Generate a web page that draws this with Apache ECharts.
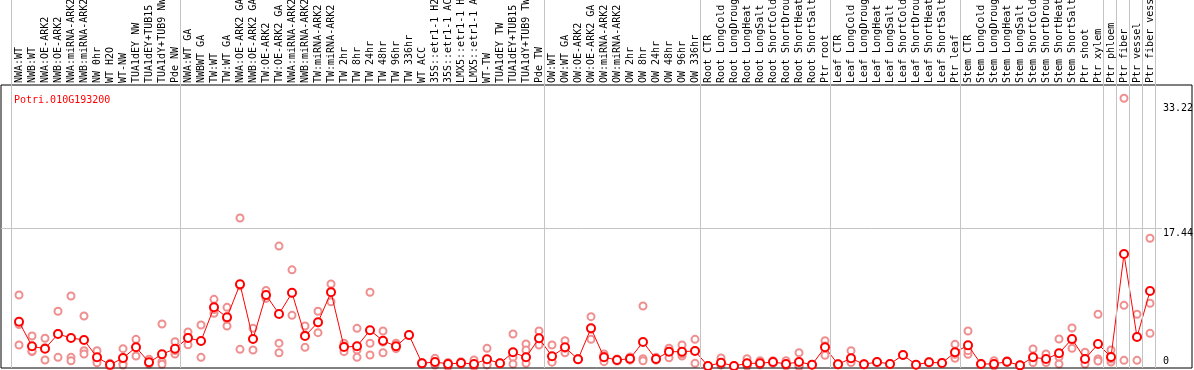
<!DOCTYPE html>
<html>
<head>
<meta charset="utf-8">
<script src="https://cdn.jsdelivr.net/npm/echarts@6/dist/echarts.min.js"></script>
<style>
html,body{margin:0;padding:0;background:#fff;}
#chart{width:1194px;height:370px;}
</style>
</head>
<body>
<div id="chart"></div>
<script>
const geneId = 'Potri.010G193200';

const categories = [
  'NWA:WT','NWB:WT','NWA:OE-ARK2','NWB:OE-ARK2','NWA:miRNA-ARK2','NWB:miRNA-ARK2','NW 0hr','WT H2O','WT-NW',
  'TUA1dEY NW','TUA1dEY+TUB15 NW','TUA1dY+TUB9 NW','Pde NW',
  'NWA:WT GA','NWBWT GA','TW:WT','TW:WT GA','NWA:OE-ARK2 GA','NWB:OE-ARK2 GA','TW:OE-ARK2','TW:OE-ARK2 GA',
  'NWA:miRNA-ARK2 GA','NWB:miRNA-ARK2 GA','TW:miRNA-ARK2','TW:miRNA-ARK2 GA','TW 2hr','TW 8hr','TW 24hr','TW 48hr',
  'TW 96hr','TW 336hr','WT ACC','35S::etr1-1 H2O','35S::etr1-1 ACC','LMX5::etr1-1 H2O','LMX5::etr1-1 ACC','WT-TW',
  'TUA1dEY TW','TUA1dEY+TUB15 TW','TUA1dY+TUB9 TW','Pde TW',
  'OW:WT','OW:WT GA','OW:OE-ARK2','OW:OE-ARK2 GA','OW:miRNA-ARK2','OW:miRNA-ARK2 GA','OW 2hr','OW 8hr','OW 24hr',
  'OW 48hr','OW 96hr','OW 336hr',
  'Root CTR','Root LongCold','Root LongDrought','Root LongHeat','Root LongSalt','Root ShortCold','Root ShortDrought',
  'Root ShortHeat','Root ShortSalt','Ptr root',
  'Leaf CTR','Leaf LongCold','Leaf LongDrought','Leaf LongHeat','Leaf LongSalt','Leaf ShortCold','Leaf ShortDrought',
  'Leaf ShortHeat','Leaf ShortSalt','Ptr leaf',
  'Stem CTR','Stem LongCold','Stem LongDrought','Stem LongHeat','Stem LongSalt','Stem ShortCold','Stem ShortDrought',
  'Stem ShortHeat','Stem ShortSalt','Ptr shoot','Ptr xylem',
  'Ptr phloem','Ptr fiber','Ptr vessel','Ptr fiber vessel'
];

const means = [
  5.66,2.55,2.25,4.10,3.60,3.35,1.16,0.23,1.07,2.42,0.53,1.54,2.25,
  3.60,3.22,7.47,6.21,10.38,3.47,9.03,6.63,9.30,3.85,5.58,9.37,2.46,2.55,4.57,3.26,2.55,3.98,0.40,0.57,0.32,0.44,0.32,0.91,0.40,1.79,1.16,3.56,
  1.29,2.42,0.91,4.82,1.16,0.82,0.99,3.09,0.95,1.87,1.87,1.96,
  0.06,0.48,0.06,0.40,0.40,0.57,0.32,0.57,0.23,2.42,
  0.28,1.03,0.28,0.57,0.32,1.45,0.23,0.53,0.44,1.79,
  2.67,0.32,0.32,0.61,0.15,1.16,0.95,1.67,3.47,0.95,2.84,
  1.20,14.20,3.72,9.53
];

const replicates = [
  [9.03,2.71,5.30],[3.85,1.87,1.95],[3.56,0.82,2.37],[6.97,1.16,4.17],[8.90,1.16,0.73],[6.38,2.00,1.58],
  [2.00,0.82,0.48],[0.40,0.05,0.20],[2.25,0.40,0.19],[3.43,1.33,2.50],[0.91,0.40,0.30],[5.37,0.61,0.28],[3.13,1.58,2.00],
  [4.36,2.75,3.70],[5.24,1.16,3.20],[8.48,6.72,7.20],[7.47,5.11,6.00],[18.75,2.17,10.20],[4.82,2.08,3.50],
  [9.60,8.60,8.90],[15.20,1.74,2.95],[6.46,9.24,12.20],[5.11,2.42,4.00],[6.97,4.27,5.50],[10.42,8.18,9.50],
  [2.93,1.87,2.60],[4.82,2.08,1.16],[9.37,2.93,1.45],[4.48,3.09,1.74],[2.93,2.25,2.50],[4.00,3.90,4.00],
  [0.40,0.30,0.50],[1.03,0.19,0.50],[0.00,0.40,0.50],[0.44,0.30,0.60],[0.82,0.00,0.15],[2.29,0.23,0.20],
  [0.40,0.35,0.45],[4.10,1.16,0.32],[2.84,2.08,0.40],[4.48,2.71,3.50],
  [2.71,0.61,0.55],[3.26,1.74,2.30],[0.91,0.85,1.00],[6.29,3.43,4.70],[1.58,0.61,1.30],[0.82,0.70,0.95],
  [0.99,1.20,0.80],[7.64,0.99,0.73],[1.16,0.80,0.90],[2.17,1.11,2.30],[2.71,1.33,1.60],[3.43,0.40,2.00],
  [0.06,0.00,0.10],[1.07,0.20,0.20],[0.06,0.00,0.10],[0.99,0.10,0.10],[0.73,0.20,0.30],[0.73,0.40,0.60],
  [0.73,0.10,0.20],[1.74,0.00,0.10],[0.23,0.20,0.25],[3.26,1.41,2.60],
  [0.28,0.20,0.35],[2.00,0.60,0.50],[0.28,0.20,0.35],[0.57,0.50,0.60],[0.32,0.30,0.35],[1.45,1.40,1.50],
  [0.23,0.20,0.25],[0.53,0.50,0.60],[0.44,0.40,0.50],[2.80,1.03,1.55],
  [4.48,1.54,2.00],[0.32,0.30,0.35],[0.73,0.10,0.15],[0.73,0.50,0.60],[0.15,0.10,0.20],[2.21,0.80,0.50],
  [1.58,0.80,0.50],[3.47,0.32,1.20],[4.86,2.29,3.30],[1.80,0.95,0.32],[6.59,0.95,0.70],
  [2.08,0.57,0.95],[33.86,7.72,0.78],[6.59,0.78,3.80],[16.19,7.98,4.19]
];

// first category index of each group (and end); vertical separators drawn just before these
const groupStarts = [0,13,41,53,63,73,84,85,86,87,88];
const yLabelValues = [17.44, 33.22];
const yZeroValues = [0];
const yGridValues = [17.44];

const idx = categories.map((_, i) => i);
const meanData = means.map((v, i) => [i, v]);
const repData = [];
replicates.forEach((arr, i) => arr.forEach(v => repData.push([i, v])));

const X_MIN = -1.385, X_MAX = 90.23, Y_MIN = -0.19, Y_MAX = 35.54;
const FONT = 'DejaVu Sans Mono';

const chart = echarts.init(document.getElementById('chart'), null, {renderer: 'canvas'});
chart.setOption({
  animation: false,
  backgroundColor: '#fff',
  title: {
    text: geneId, left: 9, top: 90,
    textStyle: {color: '#ff0000', fontSize: 10, fontFamily: FONT, fontWeight: 'normal'}
  },
  grid: [
    {left: 1, right: 2, top: 85, bottom: 2, show: true, borderColor: '#000', borderWidth: 1, backgroundColor: 'transparent', containLabel: false, outerBoundsMode: 'none', z: 3},
    {left: 1, right: 2, top: 0, bottom: 2, show: false, containLabel: false, outerBoundsMode: 'none'}
  ],
  xAxis: [
    {
      type: 'value', gridIndex: 0, position: 'top', min: X_MIN, max: X_MAX,
      axisLine: {show: false}, axisTick: {show: false}, splitLine: {show: false},
      axisLabel: {
        show: true, rotate: 90, margin: 2, fontSize: 10, fontFamily: FONT, color: '#000',
        customValues: idx, formatter: v => categories[Math.round(v)] || ''
      }
    },
    {
      type: 'value', gridIndex: 1, min: X_MIN, max: X_MAX, show: false,
      axisLine: {show: false}, axisTick: {show: false}, splitLine: {show: false}, axisLabel: {show: false}
    }
  ],
  yAxis: [
    {
      type: 'value', gridIndex: 0, position: 'right', min: Y_MIN, max: Y_MAX,
      axisLine: {show: false}, axisTick: {show: false}, splitLine: {show: false},
      axisLabel: {
        inside: true, margin: 29, align: 'left', verticalAlign: 'top', fontSize: 10, fontFamily: FONT, color: '#000',
        customValues: yLabelValues, formatter: v => String(v)
      }
    },
    {
      type: 'value', gridIndex: 0, position: 'right', min: Y_MIN, max: Y_MAX,
      axisLine: {show: false}, axisTick: {show: false}, splitLine: {show: false},
      axisLabel: {
        inside: true, margin: 29, align: 'left', verticalAlign: 'bottom', fontSize: 10, fontFamily: FONT, color: '#000',
        customValues: yZeroValues, formatter: v => String(v)
      }
    },
    {
      type: 'value', gridIndex: 1, min: 0, max: 1, show: false,
      axisLine: {show: false}, axisTick: {show: false}, splitLine: {show: false}, axisLabel: {show: false}
    }
  ],
  series: [
    {
      type: 'line', xAxisIndex: 1, yAxisIndex: 2, data: [], silent: true, z: 1,
      markLine: {
        silent: true, symbol: 'none', label: {show: false},
        lineStyle: {color: '#c4c4c4', width: 1, type: 'solid'},
        data: groupStarts.map(s => ({xAxis: s - 0.59}))
      }
    },
    {
      type: 'line', xAxisIndex: 0, yAxisIndex: 0, data: [], silent: true, z: 1,
      markLine: {
        silent: true, symbol: 'none', label: {show: false},
        lineStyle: {color: '#c4c4c4', width: 1, type: 'solid'},
        data: yGridValues.map(v => [{coord: [X_MIN, v]}, {coord: [87.92, v]}])
      }
    },
    {
      type: 'scatter', xAxisIndex: 0, yAxisIndex: 0, data: repData, z: 2,
      symbol: 'emptyCircle', symbolSize: 7,
      itemStyle: {color: '#ef8f8f', borderColor: '#ef8f8f', borderWidth: 1.2, opacity: 1}
    },
    {
      type: 'line', xAxisIndex: 0, yAxisIndex: 0, data: meanData, z: 4,
      symbol: 'emptyCircle', symbolSize: 8, showSymbol: true,
      lineStyle: {color: '#ff0000', width: 1},
      itemStyle: {color: '#ff0000', borderColor: '#ff0000', borderWidth: 1.6}
    }
  ]
});
</script>
</body>
</html>
